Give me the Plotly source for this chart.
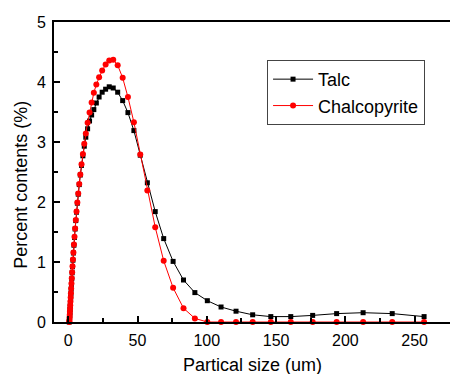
import plotly.graph_objects as go

size_um = [0.76, 0.84, 0.92, 1.01, 1.11, 1.22, 1.34, 1.47, 1.62, 1.78, 1.95, 2.14, 2.35, 2.58,
           2.84, 3.12, 3.42, 3.76, 4.13, 4.54, 4.98, 5.47, 6.01, 6.60, 7.25, 7.97, 8.75, 9.61,
           10.6, 11.6, 12.7, 14.0, 15.4, 16.9, 18.5, 20.3, 22.3, 24.5, 27.0, 29.6, 32.5, 35.7,
           39.3, 43.1, 47.4, 52.0, 57.1, 62.8, 68.9, 75.7, 83.2, 91.4, 100.4, 110.3, 121.1,
           133.1, 146.2, 160.6, 176.4, 193.7, 212.8, 233.8, 256.8]

talc = [0.0, 0.01, 0.04, 0.07, 0.11, 0.16, 0.21, 0.27, 0.33, 0.40, 0.47, 0.55, 0.63, 0.72,
        0.82, 0.92, 1.03, 1.15, 1.28, 1.41, 1.55, 1.69, 1.83, 1.98, 2.13, 2.29, 2.45, 2.61,
        2.77, 2.93, 3.08, 3.22, 3.35, 3.45, 3.54, 3.65, 3.75, 3.83, 3.88, 3.92, 3.90, 3.83,
        3.69, 3.49, 3.19, 2.78, 2.32, 1.84, 1.39, 1.01, 0.70, 0.49, 0.355, 0.25, 0.18,
        0.12, 0.09, 0.09, 0.11, 0.14, 0.155, 0.14, 0.09]

chalcopyrite = [0.0, 0.01, 0.04, 0.08, 0.12, 0.17, 0.22, 0.28, 0.34, 0.41, 0.48, 0.56, 0.64, 0.73,
                0.83, 0.93, 1.04, 1.16, 1.29, 1.42, 1.56, 1.70, 1.84, 1.99, 2.14, 2.30, 2.46, 2.63,
                2.80, 2.97, 3.14, 3.32, 3.49, 3.66, 3.82, 3.96, 4.08, 4.19, 4.29, 4.36, 4.37, 4.28,
                4.07, 3.75, 3.33, 2.79, 2.19, 1.58, 1.02, 0.57, 0.23, 0.06, 0.0, 0.0, 0.0,
                0.0, 0.0, 0.0, 0.0, 0.0, 0.0, 0.0, 0.0]

x_ticks = [0, 50, 100, 150, 200, 250]
y_ticks = [0, 1, 2, 3, 4, 5]

FONT = "Liberation Sans, Arial, sans-serif"

fig = go.Figure()
fig.add_trace(go.Scatter(
    x=size_um, y=talc, name="Talc", mode="lines+markers",
    line=dict(color="black", width=1),
    marker=dict(symbol="square", size=5, color="black"),
    cliponaxis=False))
fig.add_trace(go.Scatter(
    x=size_um, y=chalcopyrite, name="Chalcopyrite", mode="lines+markers",
    line=dict(color="#ff0000", width=1),
    marker=dict(symbol="circle", size=6, color="#ff0000"),
    cliponaxis=False))

fig.update_layout(
    width=450, height=374,
    margin=dict(l=54, r=0, t=22, b=51.5, pad=0),
    paper_bgcolor="white", plot_bgcolor="white",
    font=dict(family=FONT, size=16, color="black"),
    showlegend=True,
    legend=dict(
        x=0.538, y=0.8735, xanchor="left", yanchor="top",
        bordercolor="#444444", borderwidth=1, bgcolor="white",
        font=dict(family=FONT, size=18, color="black"),
        itemwidth=40, tracegroupgap=0),
    xaxis=dict(
        range=[-10.25, 275.5], tickvals=x_ticks, ticktext=[str(v) for v in x_ticks],
        ticks="inside", ticklen=6, tickwidth=1.5, tickcolor="black",
        minor=dict(dtick=25, tick0=0, ticks="inside", ticklen=4, tickwidth=1.5, tickcolor="black"),
        showline=True, linecolor="black", linewidth=2, mirror=True,
        showgrid=False, zeroline=False,
        tickfont=dict(family=FONT, size=16), ticklabelstandoff=3),
    yaxis=dict(
        range=[0, 5], tickvals=y_ticks, ticktext=[str(v) for v in y_ticks],
        ticks="inside", ticklen=6, tickwidth=1.5, tickcolor="black",
        minor=dict(dtick=0.5, tick0=0, ticks="inside", ticklen=4, tickwidth=1.5, tickcolor="black"),
        showline=True, linecolor="black", linewidth=2, mirror=False,
        showgrid=False, zeroline=False,
        tickfont=dict(family=FONT, size=16), ticklabelstandoff=3),
    annotations=[
        dict(text="Partical size (um)", xref="paper", yref="paper", x=0.5, y=-0.142,
             xanchor="center", yanchor="middle", showarrow=False,
             font=dict(family=FONT, size=18, color="black")),
        dict(text="Percent contents (%)", xref="paper", yref="paper", x=-0.083, y=0.4576,
             xanchor="center", yanchor="middle", textangle=-90, showarrow=False,
             font=dict(family=FONT, size=18, color="black")),
    ],
)

fig.write_html("out.html")
